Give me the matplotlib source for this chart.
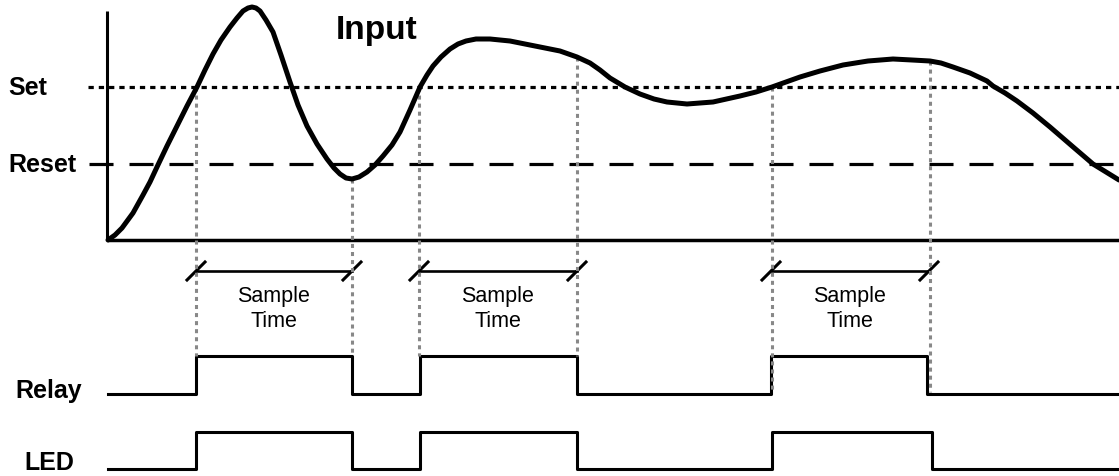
import matplotlib.pyplot as plt
import numpy as np

plt.rcParams['font.family'] = ['Liberation Sans', 'DejaVu Sans']
plt.rcParams['lines.scale_dashes'] = False

# Input signal (time, level), in picture units (y grows downward)
input_t = [108, 115, 122, 133, 143, 150, 157, 167, 177, 187, 197, 205, 213, 221, 230,
           237, 243, 248, 252, 256, 260, 266, 273, 281, 290, 298, 307, 317, 327, 334,
           340, 346, 352, 359, 367, 375, 383, 392, 400, 410, 420, 427, 433, 441, 450,
           458, 466, 476, 490, 510, 530, 550, 560, 577, 590, 600, 610, 625, 640, 654,
           667, 687, 713, 740, 756, 772, 786, 800, 820, 843, 868, 893, 912, 930, 941,
           953, 970, 987, 993, 1005, 1017, 1033, 1050, 1072, 1093, 1106, 1119]
input_v = [241, 236, 229, 214, 196, 183, 168, 147, 127, 107, 88, 71, 55, 41, 28,
           19, 12, 9, 8, 9, 12, 21, 33, 56, 83, 106, 127, 145, 160, 169,
           175, 179, 180, 178, 173, 166, 157, 146, 133, 111, 88, 76, 67, 58, 50,
           45, 42, 40, 40, 42, 46, 50, 52, 58, 64, 71, 79, 88, 95, 100,
           103, 105, 103, 97, 93, 88, 83, 78, 72, 66, 62, 60, 61, 62, 64,
           68, 74, 82, 87, 94, 102, 114, 128, 147, 165, 173, 181]

set_level = 88
reset_level = 165

# switching instants and where the guide lines start / stop
switch_t = [196, 352, 419, 577, 772, 930]
switch_top = [88, 180, 88, 58, 88, 62]
switch_bottom = [357, 357, 357, 357, 393, 393]

# sample time windows
windows = [(196, 352), (419, 577), (771, 929)]

# relay / LED states
relay_t = [108, 196, 352, 420, 577, 771, 927, 1119]
relay_s = [0, 1, 0, 1, 0, 1, 0, 0]
led_t = [108, 196, 352, 420, 577, 772, 932, 1119]
led_s = [0, 1, 0, 1, 0, 1, 0, 0]

fig = plt.figure(figsize=(11.19, 4.77), dpi=100)
ax = fig.add_axes([0, 0, 1, 1])
ax.set_xlim(0, 1119)
ax.set_ylim(477, 0)
ax.axis('off')

# axes of the input graph
ax.plot([107, 107], [12, 241], color='black', lw=2.2, solid_capstyle='butt')
ax.plot([107, 1119], [241, 241], color='black', lw=2.5, solid_capstyle='butt')

# set / reset thresholds
ax.plot([88, 1119], [set_level, set_level], color='black', lw=2.3,
        dashes=(3.8, 3.6), dash_capstyle='butt')
ax.plot([89, 1119], [reset_level, reset_level], color='black', lw=2.3,
        dashes=(17.3, 11.5), dash_capstyle='butt')

# guide lines
for x, y0, y1 in zip(switch_t, switch_top, switch_bottom):
    ax.plot([x, x], [y0, y1], color='#888888', lw=2.2, dashes=(2.9, 2.9),
            dash_capstyle='butt', zorder=3)

# input curve
ax.plot(input_t, input_v, color='black', lw=3.6, solid_joinstyle='round',
        solid_capstyle='round', zorder=4)

# sample time markers
arrow_y = 272
for a, b in windows:
    ax.plot([a, b], [arrow_y, arrow_y], color='black', lw=1.9)
    for x in (a, b):
        ax.plot([x - 9, x + 9], [arrow_y + 9, arrow_y - 9], color='black', lw=2.2)
    mid = (a + b) / 2
    ax.text(mid, 302, 'Sample', ha='center', va='baseline', fontsize=15.5)
    ax.text(mid, 327, 'Time', ha='center', va='baseline', fontsize=15.5)

# relay and LED traces
relay_y = [395 - 38 * s for s in relay_s]
led_y = [470 - 37 * s for s in led_s]
ax.plot(relay_t, relay_y, drawstyle='steps-post', color='black', lw=2.2)
ax.plot(led_t, led_y, drawstyle='steps-post', color='black', lw=2.2)

# labels
bold = dict(fontsize=18, fontweight='bold')
ax.text(8, set_level, 'Set', ha='left', va='center', **bold)
ax.text(8, reset_level, 'Reset', ha='left', va='center', **bold)
ax.text(49, 391, 'Relay', ha='center', va='center', **bold)
ax.text(49, 463, 'LED', ha='center', va='center', **bold)
ax.text(377, 31, 'Input', ha='center', va='center', fontsize=24, fontweight='bold')

fig.savefig('out.png', dpi=100)
